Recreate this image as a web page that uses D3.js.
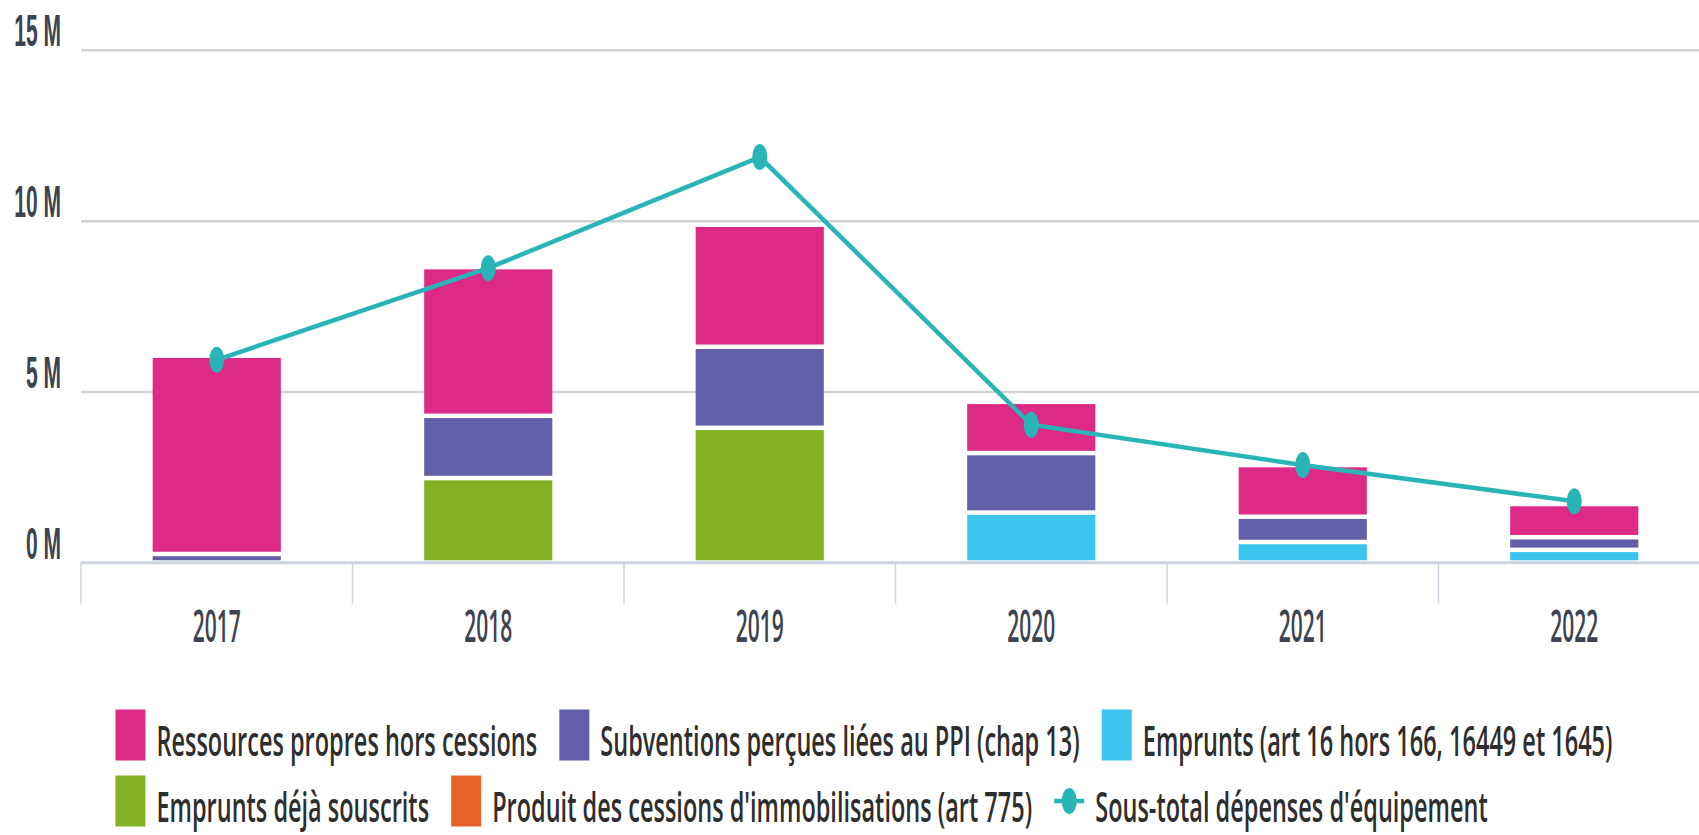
<!DOCTYPE html>
<html>
<head>
<meta charset="utf-8">
<script src="https://cdn.jsdelivr.net/npm/d3@7"></script>
<style>
  html, body { margin: 0; padding: 0; background: #fff; overflow: hidden; }
  svg { display: block; font-family: "Open Sans", "DejaVu Sans", sans-serif; }
</style>
</head>
<body>
<svg id="chart"></svg>
<script>
// values in millions of euros
const years = ["2017", "2018", "2019", "2020", "2021", "2022"];
const ressources = [5.80, 4.35, 3.57, 1.50, 1.51, 0.97];
const subventions = [0.25, 1.82, 2.37, 1.74, 0.74, 0.37];
const emprunts = [0, 0, 0, 1.46, 0.60, 0.37];
const empruntsSouscrits = [0, 2.47, 3.94, 0, 0, 0];
const cessions = [0, 0, 0, 0, 0, 0];
const sousTotal = [5.93, 8.61, 11.86, 4.03, 2.85, 1.79];
const yTicks = [0, 5, 10, 15];

const series = [
  { key: "ressources", name: "Ressources propres hors cessions", color: "#dc2a86", values: ressources },
  { key: "subventions", name: "Subventions perçues liées au PPI (chap 13)", color: "#625ea8", values: subventions },
  { key: "emprunts", name: "Emprunts (art 16 hors 166, 16449 et 1645)", color: "#3cc4ef", values: emprunts },
  { key: "souscrits", name: "Emprunts déjà souscrits", color: "#84b226", values: empruntsSouscrits },
  { key: "cessions", name: "Produit des cessions d'immobilisations (art 775)", color: "#e8622a", values: cessions }
];
const lineName = "Sous-total dépenses d'équipement";
const lineColor = "#29b5b7";

const width = 1699;
const height = 835;
const chartWidth = 1728; // original chart is wider than the crop
const SY_AXIS = 2.15; // the picture is stretched vertically
const SY_LEG = 1.75;

const svg = d3.select("#chart").attr("width", width).attr("height", height);

const x = d3.scaleBand().domain(years).range([81, 1710]).padding(0);
const y = d3.scaleLinear().domain([0, 15]).range([562.5, 49.7]);
const barW = x.bandwidth() * 0.472;

// grid + y labels
const yAxis = svg.append("g")
  .attr("transform", `translate(${x.range()[0]},0)`)
  .call(d3.axisLeft(y).tickValues(yTicks).tickSize(-(x.range()[1] - x.range()[0])).tickFormat(d => `${d} M`));
yAxis.select(".domain").remove();
yAxis.selectAll(".tick line").attr("stroke", "#d2d2d2").attr("stroke-width", 2.5);
yAxis.selectAll(".tick text")
  .attr("x", null).attr("dy", null)
  .attr("transform", `translate(-20,-4) scale(1,${SY_AXIS})`)
  .attr("fill", "#3d4350")
  .style("font-size", "21px")
  .style("font-weight", "600");

// x axis line and boundary ticks
const xAxis = svg.append("g").attr("transform", `translate(0,${y(0)})`);
xAxis.append("line")
  .attr("x1", x.range()[0]).attr("x2", x.range()[1])
  .attr("stroke", "#cdd5e4").attr("stroke-width", 2.5);
xAxis.selectAll(".bound")
  .data(years)
  .join("line")
  .attr("class", "bound")
  .attr("x1", d => x(d)).attr("x2", d => x(d))
  .attr("y1", 0).attr("y2", 41)
  .attr("stroke", "#cdd5e4").attr("stroke-width", 1.5);
xAxis.selectAll(".lab")
  .data(years)
  .join("text")
  .attr("class", "lab")
  .attr("text-anchor", "middle")
  .attr("transform", d => `translate(${x(d) + x.bandwidth() / 2},${79}) scale(1,${SY_AXIS})`)
  .attr("fill", "#3d4350")
  .style("font-size", "21px")
  .style("font-weight", "600")
  .text(d => d);

// stacked bars
const table = years.map((yr, i) => {
  const row = { year: yr };
  series.forEach(s => { row[s.key] = s.values[i]; });
  return row;
});
const stackOrder = ["cessions", "souscrits", "emprunts", "subventions", "ressources"];
const stacked = d3.stack().keys(stackOrder)(table);
const colorOf = Object.fromEntries(series.map(s => [s.key, s.color]));
const gap = 4.5;

svg.append("g")
  .selectAll("g")
  .data(stacked)
  .join("g")
  .attr("fill", d => colorOf[d.key])
  .selectAll("rect")
  .data(d => d.filter(p => p[1] - p[0] > 0))
  .join("rect")
  .attr("x", d => x(d.data.year) + (x.bandwidth() - barW) / 2)
  .attr("width", barW)
  .attr("y", d => y(d[1]) + gap / 2)
  .attr("height", d => Math.max(0, y(d[0]) - y(d[1]) - gap));

// line
const cx = d => x(d) + x.bandwidth() / 2;
const line = d3.line().x((d, i) => cx(years[i])).y(d => y(d));
svg.append("path")
  .datum(sousTotal)
  .attr("fill", "none")
  .attr("stroke", lineColor)
  .attr("stroke-width", 4.5)
  .attr("d", line);
svg.append("g")
  .selectAll("ellipse")
  .data(sousTotal)
  .join("ellipse")
  .attr("cx", (d, i) => cx(years[i]))
  .attr("cy", d => y(d))
  .attr("rx", 7.5).attr("ry", 13)
  .attr("fill", lineColor);

// legend
const legendItems = series.map(s => ({ name: s.name, color: s.color, type: "rect" }))
  .concat([{ name: lineName, color: lineColor, type: "line" }]);
const legend = svg.append("g");
const symW = 30, symH = 51, symPad = 11, itemDist = 22;
const rowsY = [735, 801];
const rows = [legendItems.slice(0, 3), legendItems.slice(3)];

const placed = [];
rows.forEach((row, r) => {
  let cur = 0;
  row.forEach(item => {
    const g = legend.append("g");
    const t = g.append("text")
      .attr("fill", "#2e2e2e")
      .style("font-size", "23.5px")
      .style("font-weight", "600")
      .text(item.name);
    const tw = t.node().getComputedTextLength();
    placed.push({ g, t, item, x: cur, r });
    cur += symW + symPad + tw + itemDist;
  });
  row.totalW = cur - itemDist;
});
const legendW = d3.max(rows, r => r.totalW);
const legendX = (chartWidth - legendW) / 2;

placed.forEach(p => {
  const cyRow = rowsY[p.r];
  const x0 = legendX + p.x;
  if (p.item.type === "rect") {
    p.g.append("rect")
      .attr("x", x0).attr("y", cyRow - symH / 2)
      .attr("width", symW).attr("height", symH)
      .attr("fill", p.item.color);
  } else {
    p.g.append("line")
      .attr("x1", x0).attr("x2", x0 + symW)
      .attr("y1", cyRow).attr("y2", cyRow)
      .attr("stroke", p.item.color).attr("stroke-width", 4.5);
    p.g.append("ellipse")
      .attr("cx", x0 + symW / 2).attr("cy", cyRow)
      .attr("rx", 7.5).attr("ry", 13)
      .attr("fill", p.item.color);
  }
  p.t.attr("transform", `translate(${x0 + symW + symPad},${cyRow + 21}) scale(1,${SY_LEG})`);
});
</script>
</body>
</html>
